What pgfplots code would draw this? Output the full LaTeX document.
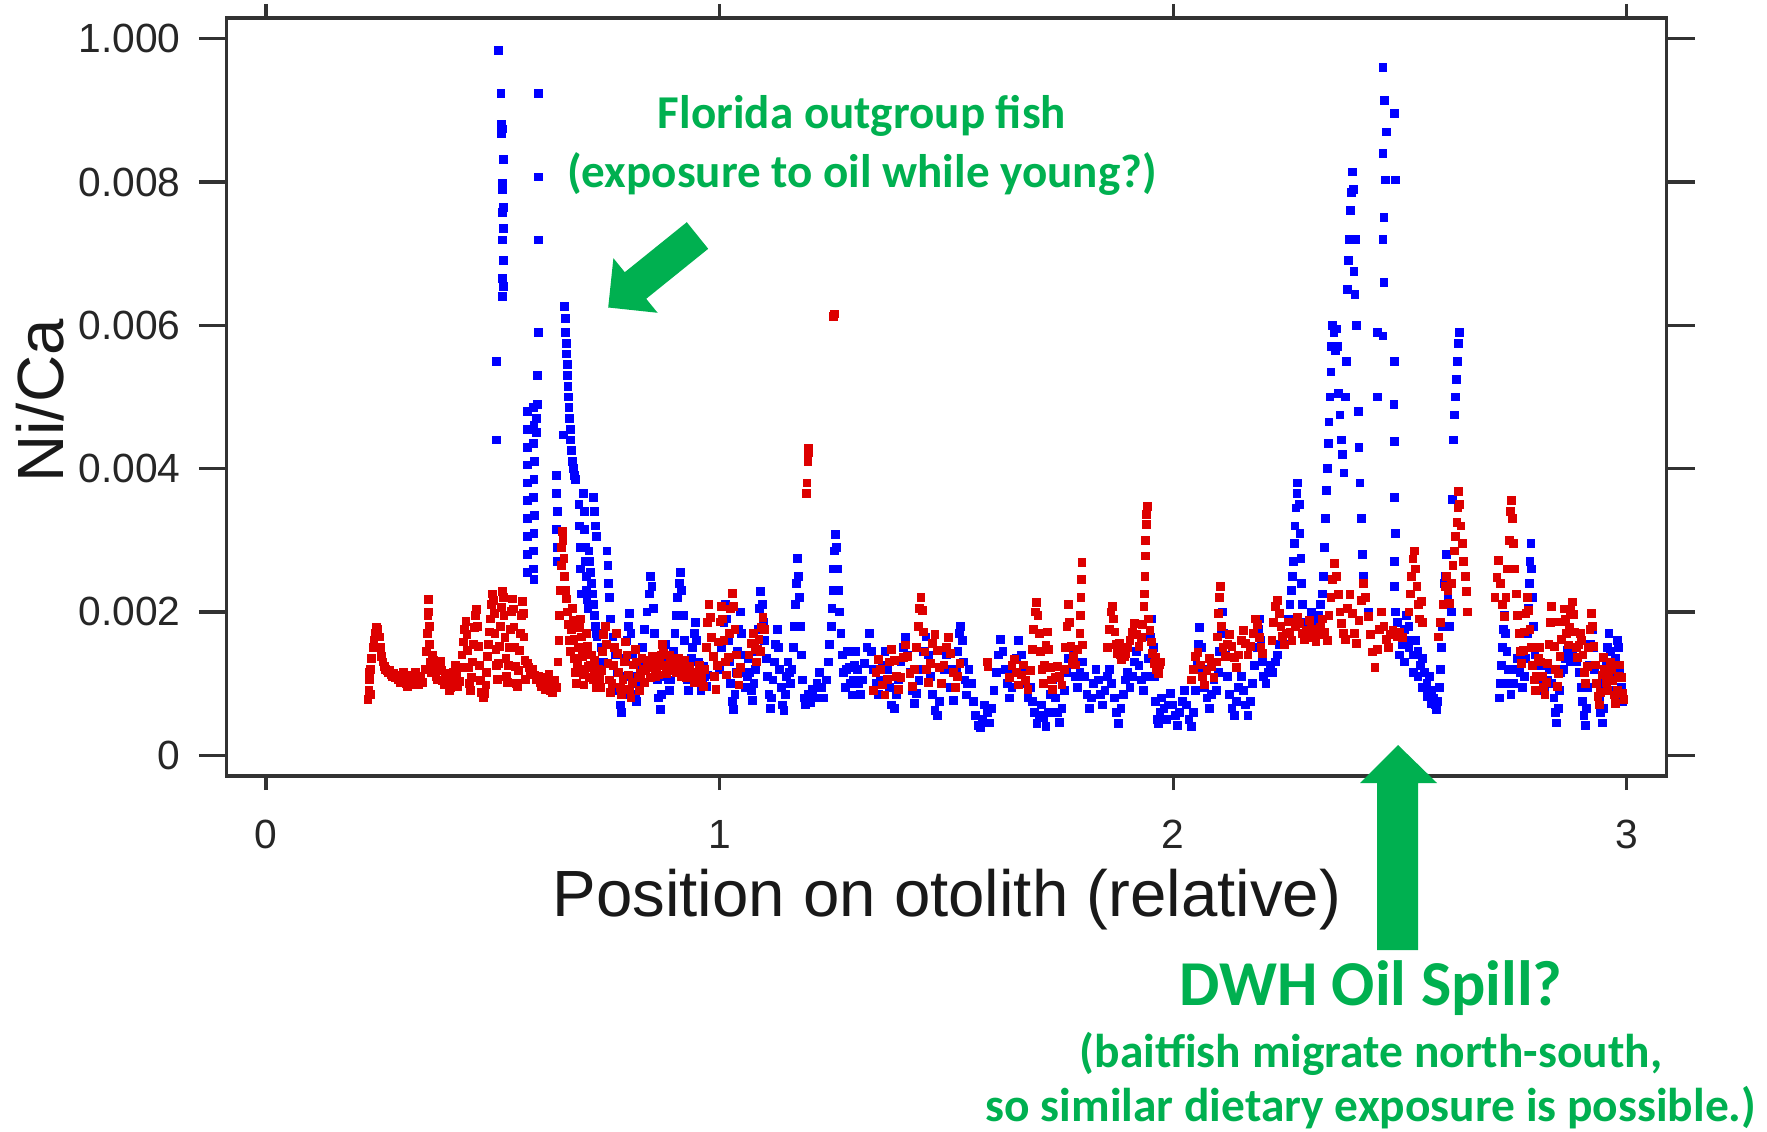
\documentclass[border=0pt]{standalone}
\usepackage{fontspec}
\setmainfont{Liberation Sans}
\newfontfamily\calibri{Carlito}
\usepackage{pgfplots}
\pgfplotsset{compat=1.18}
\usepackage{pgfplotstable}
\definecolor{mblue}{RGB}{0,0,255}
\definecolor{mred}{RGB}{221,0,0}
\definecolor{mgreen}{RGB}{0,176,80}
\definecolor{axgray}{RGB}{50,50,50}
% y values in units of 1e-4 (Ni/Ca x 10^4)
\pgfplotstableread[row sep=\\]{
x y\\
0.508 44.0\\ 0.508 55.0\\ 0.512 98.4\\ 0.518 92.4\\ 0.519 88.0\\ 0.521 87.4\\ 0.520 86.8\\ 0.524 83.1\\ 0.522 79.8\\ 0.521 79.0\\
0.523 76.4\\ 0.522 75.7\\ 0.524 73.5\\ 0.521 71.9\\ 0.523 69.1\\ 0.521 66.5\\ 0.524 65.4\\ 0.522 64.0\\
0.600 92.4\\ 0.601 80.7\\ 0.601 71.9\\ 0.600 59.0\\ 0.599 53.0\\ 0.598 49.0\\ 0.597 47.0\\ 0.596 45.0\\
0.576 48.0\\ 0.577 45.5\\ 0.576 43.0\\ 0.577 40.5\\ 0.576 38.0\\ 0.576 35.5\\ 0.577 33.0\\ 0.576 30.5\\ 0.577 28.0\\ 0.576 25.5\\
0.590 48.5\\ 0.591 46.0\\ 0.590 43.5\\ 0.592 41.0\\ 0.591 38.5\\ 0.590 36.0\\ 0.592 33.5\\ 0.591 31.0\\ 0.590 28.5\\ 0.589 26.0\\ 0.591 24.5\\
0.640 39.0\\ 0.641 36.5\\ 0.642 34.0\\ 0.641 31.5\\ 0.643 29.0\\ 0.642 27.0\\ 0.656 44.7\\
0.659 62.6\\ 0.660 61.0\\ 0.661 59.0\\ 0.662 57.5\\ 0.663 56.0\\ 0.664 54.5\\ 0.665 53.0\\ 0.666 51.5\\ 0.667 50.0\\ 0.668 48.5\\
0.670 47.0\\ 0.671 45.5\\ 0.672 44.0\\ 0.674 42.5\\ 0.676 41.0\\ 0.678 40.0\\ 0.680 39.0\\ 0.683 38.5\\
0.690 35.0\\ 0.692 32.0\\ 0.693 29.0\\ 0.694 26.0\\ 0.695 22.5\\ 0.700 36.5\\ 0.702 34.0\\ 0.703 31.5\\ 0.704 29.0\\ 0.705 27.0\\
0.706 25.0\\ 0.707 23.0\\ 0.708 21.7\\ 0.710 20.5\\ 0.712 28.5\\ 0.714 27.0\\ 0.716 25.5\\ 0.718 24.0\\ 0.720 22.5\\ 0.722 21.0\\
0.724 19.5\\ 0.726 18.0\\ 0.728 17.0\\ 0.730 16.5\\ 0.722 36.0\\ 0.724 34.0\\ 0.726 32.0\\ 0.728 30.5\\
0.740 15.0\\ 0.745 13.0\\ 0.752 28.5\\ 0.754 26.5\\ 0.756 24.0\\ 0.758 22.0\\
0.760 19.0\\ 0.765 16.5\\ 0.770 14.0\\ 0.775 11.5\\ 0.778 9.0\\ 0.781 7.0\\ 0.784 6.0\\ 0.787 8.5\\ 0.790 11.0\\ 0.793 13.5\\
0.796 16.0\\ 0.799 18.0\\ 0.802 19.8\\ 0.805 17.0\\ 0.808 14.0\\ 0.811 11.0\\ 0.814 8.5\\ 0.817 7.5\\ 0.820 10.0\\
0.825 12.5\\ 0.830 15.0\\ 0.835 17.5\\ 0.840 20.0\\ 0.845 22.5\\ 0.848 25.0\\ 0.851 23.5\\ 0.854 20.5\\ 0.857 17.0\\ 0.860 13.5\\
0.863 10.5\\ 0.866 8.0\\ 0.869 6.4\\ 0.872 8.5\\ 0.875 11.0\\ 0.878 13.5\\ 0.881 15.5\\ 0.884 13.0\\ 0.887 10.5\\ 0.890 9.0\\
0.893 10.5\\ 0.896 12.5\\ 0.899 14.5\\ 0.902 17.0\\ 0.905 19.5\\ 0.908 22.0\\ 0.911 24.0\\ 0.914 25.5\\ 0.917 23.0\\ 0.920 19.5\\
0.923 16.0\\ 0.926 13.0\\ 0.929 10.5\\ 0.932 9.0\\ 0.935 11.0\\ 0.938 13.5\\ 0.941 15.0\\ 0.944 17.0\\ 0.947 18.5\\ 0.950 16.0\\
0.953 13.0\\ 0.956 10.5\\ 0.959 9.0\\ 0.962 10.6\\ 0.965 12.4\\ 0.968 11.0\\ 0.971 9.6\\ 0.974 11.2\\
1.000 12.0\\ 1.005 15.0\\ 1.010 18.5\\ 1.013 21.0\\ 1.016 19.0\\ 1.019 16.0\\ 1.022 13.0\\ 1.025 10.0\\ 1.028 7.5\\ 1.031 6.4\\
1.034 8.5\\ 1.037 11.5\\ 1.040 14.5\\ 1.043 17.5\\ 1.046 20.0\\ 1.049 17.0\\ 1.052 14.0\\ 1.055 11.5\\ 1.058 9.5\\ 1.061 11.0\\
1.064 13.5\\ 1.067 11.5\\ 1.070 9.0\\ 1.073 7.6\\ 1.076 10.0\\ 1.079 12.0\\ 1.082 14.5\\ 1.085 17.5\\ 1.088 20.5\\ 1.091 22.8\\
1.094 21.0\\ 1.097 18.5\\ 1.100 16.0\\ 1.103 13.5\\ 1.106 11.0\\ 1.109 8.5\\ 1.112 6.5\\ 1.115 8.0\\ 1.118 10.5\\ 1.121 13.0\\
1.124 15.5\\ 1.127 17.6\\ 1.130 15.0\\ 1.133 12.0\\ 1.136 9.5\\ 1.139 7.0\\ 1.142 6.2\\ 1.145 8.5\\ 1.148 11.0\\ 1.151 13.0\\
1.154 11.5\\ 1.157 10.0\\ 1.160 12.0\\ 1.163 15.0\\ 1.166 18.0\\ 1.168 21.0\\ 1.170 24.0\\ 1.172 27.5\\ 1.174 25.0\\ 1.176 22.0\\
1.178 18.0\\ 1.180 14.0\\ 1.183 10.5\\ 1.186 8.0\\ 1.190 7.0\\ 1.195 8.5\\ 1.200 7.4\\ 1.205 9.2\\ 1.210 8.0\\ 1.215 10.0\\
1.220 11.6\\ 1.225 9.5\\ 1.230 8.0\\ 1.235 10.5\\ 1.240 13.0\\ 1.243 15.5\\ 1.246 18.0\\ 1.248 20.5\\ 1.250 23.0\\ 1.252 26.0\\
1.254 28.5\\ 1.256 30.8\\ 1.258 29.0\\ 1.260 26.0\\ 1.262 23.0\\ 1.265 20.0\\ 1.268 17.0\\ 1.271 14.0\\ 1.274 11.5\\ 1.277 9.5\\
1.280 12.0\\ 1.283 14.5\\ 1.286 12.2\\ 1.289 10.0\\ 1.292 8.4\\ 1.295 10.5\\ 1.298 12.6\\ 1.301 14.5\\ 1.304 12.0\\ 1.307 10.0\\
1.310 8.5\\ 1.315 10.5\\ 1.320 12.8\\ 1.325 15.0\\ 1.330 17.0\\ 1.335 14.5\\ 1.340 12.0\\ 1.345 10.0\\ 1.350 8.5\\ 1.355 10.5\\
1.360 12.5\\ 1.365 14.5\\ 1.370 12.0\\ 1.375 9.5\\ 1.380 7.0\\ 1.385 6.5\\ 1.390 8.5\\ 1.395 10.5\\ 1.400 13.0\\ 1.405 15.0\\
1.410 16.5\\ 1.415 14.0\\ 1.420 11.5\\ 1.425 9.0\\ 1.430 7.2\\ 1.435 8.6\\ 1.440 10.4\\ 1.445 12.0\\ 1.450 14.5\\ 1.455 16.5\\
1.460 14.0\\ 1.465 11.0\\ 1.470 8.5\\ 1.475 6.2\\ 1.480 5.5\\ 1.485 7.5\\ 1.490 10.0\\ 1.495 12.0\\ 1.500 14.0\\ 1.505 12.0\\
1.510 9.5\\ 1.515 7.6\\ 1.520 9.5\\ 1.523 12.0\\ 1.526 14.5\\ 1.529 17.0\\ 1.532 18.0\\ 1.535 16.0\\ 1.538 13.0\\ 1.541 10.5\\
1.544 8.4\\ 1.547 10.0\\ 1.550 12.0\\ 1.555 10.0\\ 1.560 7.5\\ 1.565 5.5\\ 1.570 4.2\\ 1.575 3.8\\ 1.580 5.0\\ 1.585 7.0\\
1.590 6.0\\ 1.595 4.5\\ 1.600 6.5\\ 1.605 9.0\\ 1.610 11.5\\ 1.615 14.0\\ 1.620 16.2\\ 1.625 14.5\\ 1.630 12.0\\ 1.635 10.0\\
1.640 8.0\\ 1.645 9.5\\ 1.650 11.5\\ 1.655 13.5\\ 1.660 16.0\\ 1.665 14.0\\ 1.670 12.0\\
1.675 10.0\\ 1.680 8.0\\ 1.685 9.5\\ 1.690 7.5\\ 1.695 6.0\\ 1.700 4.4\\ 1.705 5.5\\ 1.710 7.0\\ 1.715 5.2\\ 1.720 4.0\\
1.725 6.0\\ 1.730 8.5\\ 1.735 10.5\\ 1.740 8.0\\ 1.745 6.0\\ 1.750 4.6\\ 1.755 6.5\\ 1.760 9.0\\ 1.765 11.5\\ 1.770 13.5\\
1.775 15.0\\ 1.780 13.0\\ 1.785 11.0\\ 1.790 9.5\\ 1.795 11.5\\ 1.800 13.0\\ 1.805 11.0\\ 1.810 8.5\\ 1.815 6.5\\ 1.820 8.0\\
1.825 10.0\\ 1.830 12.0\\ 1.835 10.5\\ 1.840 8.5\\ 1.845 7.0\\ 1.850 9.0\\ 1.855 11.0\\ 1.860 12.0\\ 1.865 10.0\\ 1.870 8.0\\
1.875 6.0\\ 1.880 4.4\\ 1.885 6.5\\ 1.890 8.5\\ 1.895 10.5\\ 1.900 11.5\\ 1.905 9.5\\ 1.910 11.0\\ 1.915 13.0\\ 1.920 14.5\\
1.925 12.5\\ 1.930 10.5\\ 1.935 9.0\\ 1.940 11.0\\ 1.945 13.5\\ 1.950 16.5\\ 1.953 19.0\\ 1.956 15.0\\ 1.959 11.0\\ 1.962 7.5\\
1.965 5.0\\ 1.968 4.4\\ 1.971 6.0\\ 1.975 8.0\\ 1.980 6.5\\ 1.985 5.0\\ 1.990 7.0\\ 1.995 8.6\\ 2.000 7.0\\ 2.005 5.5\\
2.010 4.2\\ 2.015 6.0\\ 2.020 7.5\\ 2.025 9.0\\ 2.030 7.0\\ 2.035 5.0\\ 2.040 4.0\\ 2.045 6.0\\
2.050 9.0\\ 2.053 12.5\\ 2.056 15.5\\ 2.059 17.8\\ 2.062 15.0\\ 2.065 12.0\\ 2.070 9.5\\ 2.075 8.0\\ 2.080 6.5\\ 2.085 8.5\\
2.090 10.5\\ 2.095 9.0\\ 2.100 11.5\\ 2.103 14.5\\ 2.106 17.5\\ 2.109 20.0\\ 2.112 17.0\\ 2.115 14.0\\ 2.120 11.0\\ 2.125 8.5\\
2.130 6.5\\ 2.135 5.5\\ 2.140 7.5\\ 2.145 9.5\\ 2.150 11.0\\ 2.155 9.0\\ 2.160 7.0\\ 2.165 5.5\\ 2.170 7.5\\ 2.175 10.0\\
2.180 12.5\\ 2.185 15.0\\ 2.188 17.5\\ 2.191 19.0\\ 2.194 16.0\\ 2.197 13.0\\ 2.200 11.0\\ 2.205 10.0\\ 2.210 11.5\\ 2.215 12.5\\
2.220 11.5\\ 2.225 13.0\\ 2.230 14.0\\ 2.235 15.5\\ 2.240 16.5\\ 2.245 15.5\\ 2.250 17.0\\
2.255 19.0\\ 2.258 21.0\\ 2.261 23.0\\ 2.263 25.0\\ 2.265 27.0\\ 2.267 29.5\\ 2.269 32.0\\ 2.271 34.5\\ 2.273 36.5\\ 2.275 38.0\\
2.278 35.0\\ 2.280 31.0\\ 2.282 27.5\\ 2.284 24.0\\ 2.286 21.0\\ 2.290 18.5\\ 2.295 17.0\\ 2.300 18.5\\ 2.305 20.0\\ 2.310 19.0\\
2.315 18.0\\ 2.320 19.5\\ 2.325 21.0\\ 2.330 22.5\\ 2.332 25.0\\ 2.334 29.0\\ 2.336 33.0\\ 2.338 37.0\\ 2.340 40.0\\ 2.342 43.5\\
2.344 46.5\\ 2.346 50.0\\ 2.348 53.5\\ 2.350 57.0\\ 2.352 60.0\\ 2.355 59.0\\ 2.358 56.5\\ 2.360 59.5\\ 2.362 57.0\\ 2.365 50.5\\
2.368 47.5\\ 2.371 44.0\\ 2.374 42.0\\ 2.377 39.4\\ 2.380 50.0\\ 2.383 55.0\\ 2.385 65.0\\ 2.387 69.0\\ 2.389 72.0\\ 2.391 76.0\\
2.393 78.5\\ 2.395 81.4\\ 2.397 79.0\\ 2.399 67.5\\ 2.401 64.3\\ 2.403 72.0\\ 2.405 60.0\\ 2.408 48.0\\ 2.410 43.0\\ 2.412 38.0\\
2.415 33.0\\ 2.418 28.0\\ 2.420 25.0\\ 2.425 22.0\\ 2.430 20.0\\
2.451 59.0\\ 2.451 50.0\\ 2.463 96.0\\ 2.466 91.4\\ 2.470 87.0\\ 2.463 84.0\\ 2.468 80.3\\ 2.465 75.0\\ 2.463 72.0\\ 2.465 66.0\\
2.463 58.5\\ 2.488 89.6\\ 2.490 80.3\\ 2.488 55.0\\ 2.487 49.0\\ 2.488 43.8\\ 2.489 36.0\\ 2.490 31.0\\ 2.489 27.0\\ 2.488 23.5\\
2.490 20.0\\ 2.495 18.5\\ 2.500 17.0\\ 2.505 15.5\\ 2.510 17.5\\ 2.515 19.5\\ 2.520 18.0\\ 2.525 16.0\\ 2.530 14.0\\ 2.535 16.0\\
2.540 14.5\\ 2.545 12.5\\ 2.550 13.5\\ 2.555 11.5\\ 2.560 10.0\\ 2.565 11.0\\ 2.570 9.0\\ 2.575 8.0\\ 2.578 7.0\\ 2.581 6.4\\
2.584 7.5\\ 2.587 9.5\\ 2.500 14.0\\ 2.510 13.0\\ 2.520 15.0\\ 2.530 11.5\\ 2.540 11.0\\ 2.550 9.5\\ 2.560 8.2\\ 2.570 7.2\\
2.590 12.0\\ 2.592 15.0\\ 2.594 18.0\\ 2.596 21.0\\ 2.598 24.0\\ 2.600 25.0\\ 2.603 28.0\\ 2.606 22.0\\ 2.610 18.0\\ 2.613 20.0\\
2.616 35.7\\ 2.619 44.0\\ 2.621 47.5\\ 2.623 50.0\\ 2.625 52.4\\ 2.627 55.0\\ 2.629 57.5\\ 2.631 59.0\\
2.720 8.0\\ 2.722 10.0\\ 2.724 12.5\\ 2.726 15.0\\ 2.728 17.5\\ 2.730 19.5\\ 2.733 17.0\\ 2.736 14.5\\ 2.739 12.0\\ 2.742 10.0\\
2.745 8.5\\ 2.750 10.0\\ 2.755 12.0\\ 2.760 13.5\\ 2.765 11.5\\ 2.770 9.5\\ 2.775 11.0\\ 2.778 13.5\\ 2.781 17.0\\ 2.783 20.5\\
2.785 24.0\\ 2.787 27.0\\ 2.789 29.5\\ 2.791 26.0\\ 2.793 22.0\\ 2.795 18.0\\ 2.798 14.0\\ 2.801 11.0\\ 2.804 9.0\\ 2.807 10.5\\
2.810 12.5\\ 2.815 11.0\\ 2.820 9.0\\ 2.825 10.5\\ 2.830 12.0\\ 2.835 10.0\\ 2.840 8.0\\ 2.843 6.0\\ 2.846 4.5\\ 2.849 6.5\\
2.852 9.0\\ 2.855 11.5\\ 2.858 13.8\\ 2.862 12.0\\ 2.866 13.5\\ 2.870 14.6\\ 2.875 13.0\\ 2.880 14.0\\ 2.885 15.0\\ 2.890 13.0\\
2.895 11.5\\ 2.900 9.5\\ 2.903 7.5\\ 2.906 5.5\\ 2.909 4.2\\ 2.912 6.5\\ 2.915 9.5\\ 2.918 12.5\\ 2.921 15.5\\ 2.924 17.5\\
2.927 15.0\\ 2.930 12.0\\ 2.935 10.0\\ 2.940 8.0\\ 2.943 6.0\\ 2.946 4.5\\ 2.949 6.5\\ 2.952 9.5\\ 2.955 12.5\\ 2.958 15.0\\
2.961 17.0\\ 2.964 14.5\\ 2.967 11.5\\ 2.970 9.0\\ 2.973 11.0\\ 2.976 13.5\\ 2.979 16.0\\ 2.982 15.0\\ 2.985 12.0\\ 2.988 9.5\\ 2.991 7.5\\
}\blueD
\pgfplotstableread[row sep=\\]{
x y\\
0.225 7.8\\ 0.227 9.0\\ 0.228 11.5\\ 0.229 10.5\\ 0.230 8.5\\ 0.231 12.0\\ 0.233 13.5\\ 0.236 15.0\\ 0.238 16.0\\ 0.241 17.0\\
0.244 17.8\\ 0.247 17.5\\ 0.250 16.5\\ 0.252 15.0\\ 0.255 13.8\\ 0.258 13.0\\ 0.261 12.4\\ 0.264 12.0\\ 0.267 11.8\\ 0.270 11.5\\
0.273 11.9\\ 0.276 11.2\\ 0.279 11.0\\ 0.282 11.4\\ 0.285 10.8\\ 0.288 11.2\\ 0.291 10.5\\ 0.294 11.0\\ 0.297 10.2\\ 0.300 10.8\\
0.303 11.5\\ 0.306 10.4\\ 0.309 10.0\\ 0.312 9.6\\ 0.315 10.6\\ 0.318 11.2\\ 0.321 10.1\\ 0.324 9.8\\ 0.327 10.9\\ 0.330 11.6\\
0.333 10.3\\ 0.336 9.9\\ 0.339 10.7\\ 0.342 11.0\\ 0.345 10.2\\
0.352 12.0\\ 0.354 14.5\\ 0.356 17.0\\ 0.357 19.5\\ 0.358 21.7\\ 0.359 20.0\\ 0.360 18.0\\ 0.361 15.5\\ 0.362 13.0\\ 0.364 11.5\\
0.366 12.8\\ 0.368 14.0\\ 0.370 13.2\\ 0.372 12.0\\ 0.375 11.0\\ 0.378 10.5\\ 0.381 12.4\\ 0.384 13.1\\ 0.387 11.8\\ 0.390 10.4\\
0.393 9.8\\ 0.396 10.6\\ 0.399 11.4\\ 0.402 10.0\\ 0.405 9.0\\ 0.408 9.5\\ 0.411 10.8\\
0.414 11.5\\ 0.417 12.6\\ 0.420 11.0\\ 0.423 9.6\\ 0.426 10.3\\ 0.429 12.2\\ 0.432 14.0\\ 0.435 15.8\\ 0.438 17.5\\ 0.441 18.7\\
0.443 16.8\\ 0.445 14.6\\ 0.447 12.2\\ 0.449 10.0\\ 0.451 9.0\\ 0.453 10.8\\ 0.455 13.0\\ 0.457 15.5\\ 0.459 17.8\\ 0.462 19.5\\
0.465 20.3\\ 0.467 18.0\\ 0.469 15.2\\ 0.471 12.5\\ 0.473 10.4\\ 0.476 8.8\\ 0.479 8.0\\ 0.482 8.6\\ 0.485 9.8\\ 0.487 11.6\\
0.489 13.8\\ 0.491 15.5\\ 0.493 17.2\\ 0.495 19.0\\ 0.497 21.0\\ 0.499 22.5\\ 0.501 21.6\\ 0.503 19.8\\ 0.505 17.0\\ 0.507 14.8\\
0.509 12.5\\ 0.511 10.6\\ 0.513 12.8\\ 0.515 15.2\\ 0.517 18.0\\ 0.519 20.6\\ 0.521 22.8\\ 0.523 22.0\\ 0.525 19.5\\ 0.527 16.4\\
0.529 13.5\\ 0.531 11.0\\ 0.533 10.2\\ 0.535 12.5\\ 0.537 15.0\\ 0.539 17.6\\ 0.541 20.1\\ 0.543 21.8\\ 0.545 20.4\\ 0.547 17.9\\
0.549 15.0\\ 0.551 12.4\\ 0.553 10.0\\ 0.555 9.6\\ 0.557 11.8\\ 0.559 14.6\\ 0.561 17.0\\ 0.563 19.5\\ 0.565 21.5\\ 0.567 19.8\\
0.569 16.5\\ 0.571 13.2\\ 0.573 10.6\\
0.576 12.8\\ 0.580 12.2\\ 0.584 11.5\\ 0.588 12.0\\ 0.592 11.2\\ 0.596 10.6\\ 0.600 11.0\\ 0.604 10.2\\ 0.608 9.6\\ 0.612 10.8\\
0.616 9.2\\ 0.620 10.0\\ 0.624 11.3\\ 0.628 9.0\\ 0.632 8.8\\ 0.636 10.4\\ 0.640 9.4\\
0.644 13.0\\ 0.646 16.0\\ 0.648 19.5\\ 0.650 23.0\\ 0.651 26.5\\ 0.652 29.0\\ 0.653 31.2\\ 0.655 30.0\\ 0.657 27.5\\ 0.659 25.0\\
0.661 23.0\\ 0.663 21.8\\ 0.665 20.0\\ 0.667 18.2\\ 0.669 16.0\\ 0.671 14.5\\ 0.673 17.5\\ 0.675 20.5\\ 0.677 18.8\\ 0.679 16.2\\
0.681 13.5\\ 0.683 11.5\\ 0.685 10.0\\ 0.687 12.6\\ 0.689 15.0\\ 0.691 17.8\\ 0.693 19.0\\ 0.695 16.5\\ 0.697 13.8\\ 0.699 11.2\\
0.701 9.8\\ 0.703 12.0\\ 0.705 14.5\\ 0.707 17.0\\ 0.709 15.2\\ 0.711 12.4\\ 0.713 10.8\\ 0.715 12.5\\ 0.717 14.0\\ 0.719 12.2\\
0.721 10.5\\ 0.723 11.6\\ 0.725 13.2\\ 0.727 11.0\\ 0.729 9.5\\ 0.731 10.8\\ 0.733 12.0\\ 0.735 10.6\\ 0.737 9.4\\ 0.739 11.8\\
0.742 14.5\\ 0.745 16.8\\ 0.748 18.0\\ 0.751 15.5\\ 0.754 12.8\\ 0.757 10.5\\ 0.760 8.8\\ 0.763 10.0\\ 0.766 12.5\\ 0.769 15.0\\
0.772 17.0\\ 0.775 14.2\\ 0.778 11.6\\ 0.781 9.4\\ 0.784 8.4\\ 0.787 10.6\\ 0.790 13.0\\ 0.793 15.8\\ 0.796 14.0\\ 0.799 11.2\\
0.802 9.2\\ 0.805 8.0\\ 0.808 10.2\\ 0.811 12.6\\ 0.814 14.8\\ 0.817 13.0\\ 0.820 10.8\\ 0.823 9.0\\ 0.826 11.4\\ 0.829 13.5\\
0.832 12.0\\ 0.835 10.2\\ 0.838 11.8\\ 0.841 13.2\\ 0.844 12.4\\ 0.847 10.8\\ 0.850 12.2\\ 0.853 13.8\\ 0.856 12.6\\ 0.859 11.0\\
0.862 12.0\\ 0.865 11.2\\ 0.868 12.8\\ 0.871 14.0\\ 0.874 15.5\\ 0.877 14.2\\ 0.880 12.5\\ 0.883 11.4\\ 0.886 12.6\\ 0.889 14.0\\
0.892 12.8\\ 0.895 11.8\\ 0.898 13.0\\ 0.901 12.4\\ 0.904 11.5\\ 0.907 12.8\\ 0.910 13.5\\ 0.913 12.2\\ 0.916 11.0\\ 0.919 12.0\\
0.922 13.2\\ 0.925 11.6\\ 0.928 10.8\\ 0.931 11.8\\ 0.935 12.4\\ 0.940 11.0\\ 0.945 10.2\\ 0.950 11.5\\ 0.955 12.6\\ 0.960 10.8\\
0.965 9.6\\ 0.968 12.0\\ 0.971 15.0\\ 0.974 18.5\\ 0.977 21.0\\ 0.980 19.2\\ 0.983 16.4\\ 0.986 13.8\\ 0.989 11.0\\ 0.992 9.2\\
0.995 12.5\\ 0.998 15.8\\ 1.001 18.6\\ 1.004 20.8\\ 1.007 19.0\\ 1.010 16.0\\ 1.013 13.0\\ 1.016 11.2\\ 1.019 13.6\\ 1.022 17.0\\
1.025 20.4\\ 1.028 22.6\\ 1.031 20.8\\ 1.034 17.6\\ 1.037 14.0\\ 1.040 11.4\\ 1.043 9.8\\ 1.046 12.2\\
1.065 14.0\\ 1.070 15.6\\ 1.075 17.0\\ 1.078 15.2\\ 1.081 13.0\\ 1.084 14.8\\ 1.087 16.2\\ 1.090 14.5\\ 1.093 17.8\\ 1.096 19.2\\ 1.099 17.5\\
1.192 36.5\\ 1.193 38.0\\ 1.195 41.0\\ 1.196 42.3\\ 1.197 42.8\\ 1.252 61.2\\ 1.254 61.6\\
1.340 9.0\\ 1.345 11.5\\ 1.350 13.4\\ 1.355 12.0\\ 1.360 9.8\\ 1.365 8.4\\ 1.370 10.6\\ 1.375 13.0\\ 1.380 14.8\\ 1.385 13.2\\
1.390 11.0\\ 1.395 9.2\\ 1.400 10.8\\ 1.405 13.6\\ 1.410 15.4\\ 1.415 13.8\\ 1.420 11.4\\ 1.425 9.6\\ 1.430 12.0\\ 1.435 15.0\\
1.438 18.0\\ 1.441 20.5\\ 1.444 22.0\\ 1.447 20.2\\ 1.450 17.2\\ 1.453 14.4\\ 1.456 12.0\\ 1.460 10.2\\ 1.465 12.8\\ 1.470 15.6\\
1.475 16.8\\ 1.480 14.6\\ 1.485 12.2\\ 1.490 10.0\\ 1.495 12.6\\ 1.500 15.0\\ 1.505 16.4\\ 1.510 14.2\\ 1.515 11.6\\ 1.520 9.4\\
1.525 11.0\\ 1.530 12.8\\ 1.590 13.0\\ 1.592 12.4\\
1.640 10.8\\ 1.645 12.5\\ 1.650 13.4\\ 1.655 11.6\\ 1.660 9.8\\ 1.665 11.2\\ 1.670 12.6\\ 1.675 10.4\\ 1.680 9.2\\ 1.685 11.8\\
1.690 14.8\\ 1.693 17.5\\ 1.696 20.0\\ 1.699 21.3\\ 1.702 19.5\\ 1.705 17.0\\ 1.708 14.5\\ 1.711 12.0\\ 1.714 10.0\\ 1.717 12.5\\
1.720 15.4\\ 1.723 17.2\\ 1.726 14.8\\ 1.729 12.2\\ 1.732 10.5\\ 1.735 9.2\\ 1.740 10.8\\ 1.745 12.4\\ 1.750 11.0\\ 1.755 9.8\\
1.760 12.0\\ 1.763 15.0\\ 1.766 18.0\\ 1.769 21.0\\ 1.772 18.5\\ 1.775 15.2\\ 1.778 12.8\\ 1.781 13.8\\ 1.784 12.6\\
1.790 14.8\\ 1.795 17.0\\ 1.796 19.5\\ 1.797 22.0\\ 1.798 24.5\\ 1.799 26.9\\ 1.800 15.4\\
1.855 15.0\\ 1.860 17.6\\ 1.863 20.0\\ 1.866 20.8\\ 1.869 19.0\\ 1.872 17.2\\ 1.875 15.5\\ 1.878 14.2\\ 1.881 15.6\\ 1.884 14.0\\
1.887 13.4\\ 1.890 14.6\\ 1.893 13.8\\ 1.896 14.2\\ 1.900 15.0\\ 1.905 16.0\\ 1.910 17.2\\ 1.915 18.4\\ 1.920 16.8\\ 1.925 15.2\\
1.930 16.4\\ 1.933 18.2\\ 1.936 20.8\\ 1.937 22.5\\ 1.938 25.0\\ 1.939 27.8\\ 1.940 30.0\\ 1.941 32.2\\ 1.942 33.6\\ 1.943 34.7\\
1.946 19.0\\ 1.949 17.4\\ 1.952 15.8\\ 1.955 14.2\\ 1.958 12.8\\ 1.961 13.6\\ 1.964 12.0\\ 1.967 11.4\\ 1.970 12.6\\ 1.973 13.0\\
2.040 10.5\\ 2.045 12.0\\ 2.050 13.8\\ 2.055 14.3\\ 2.060 12.6\\ 2.065 11.0\\ 2.070 9.8\\ 2.075 11.8\\ 2.080 13.5\\ 2.085 12.4\\
2.090 10.8\\ 2.095 13.0\\ 2.098 16.5\\ 2.100 19.8\\ 2.102 22.0\\ 2.104 23.5\\ 2.107 18.0\\ 2.110 15.0\\ 2.115 13.8\\ 2.120 15.5\\
2.125 16.8\\ 2.130 15.2\\ 2.135 13.6\\ 2.140 12.2\\ 2.145 14.0\\ 2.150 16.0\\ 2.155 17.4\\ 2.160 15.6\\ 2.165 14.0\\ 2.170 15.2\\
2.178 17.0\\ 2.182 19.0\\ 2.186 18.2\\ 2.190 16.4\\ 2.194 15.0\\ 2.198 14.2\\
2.218 16.0\\ 2.222 18.5\\ 2.226 20.8\\ 2.230 21.6\\ 2.234 19.8\\ 2.238 18.0\\ 2.242 16.6\\ 2.246 15.4\\ 2.250 17.0\\ 2.254 18.6\\
2.258 17.2\\ 2.262 16.0\\ 2.270 18.0\\ 2.275 19.2\\ 2.280 18.4\\ 2.285 17.0\\ 2.290 16.2\\ 2.295 17.4\\ 2.300 18.8\\ 2.305 17.6\\
2.310 16.4\\ 2.315 15.8\\ 2.320 16.8\\ 2.325 17.8\\ 2.330 19.0\\ 2.335 17.2\\ 2.340 16.0\\
2.344 19.5\\ 2.348 22.0\\ 2.352 24.5\\ 2.356 26.8\\ 2.360 25.0\\ 2.364 22.4\\ 2.368 20.0\\ 2.372 18.4\\ 2.376 17.0\\ 2.380 16.2\\
2.385 20.5\\ 2.390 22.4\\ 2.395 19.8\\ 2.400 17.0\\ 2.405 15.6\\ 2.410 18.8\\ 2.415 21.6\\ 2.420 24.0\\ 2.425 22.0\\ 2.430 19.4\\
2.435 16.8\\ 2.440 14.4\\ 2.445 12.2\\ 2.450 14.8\\ 2.455 17.6\\ 2.460 20.0\\ 2.465 18.0\\ 2.470 16.2\\ 2.475 15.0\\ 2.480 16.8\\
2.485 17.4\\ 2.490 17.0\\ 2.495 16.6\\ 2.500 17.2\\ 2.505 16.4\\
2.520 20.0\\ 2.523 22.5\\ 2.526 25.0\\ 2.529 27.4\\ 2.532 28.5\\ 2.535 26.0\\ 2.538 23.5\\ 2.541 21.0\\ 2.544 19.0\\ 2.547 21.5\\ 2.550 18.5\\
2.585 16.5\\ 2.590 18.5\\ 2.595 21.0\\ 2.600 23.5\\ 2.603 25.0\\ 2.606 23.0\\ 2.610 21.2\\ 2.614 24.0\\ 2.617 26.5\\ 2.620 28.5\\
2.623 30.5\\ 2.626 32.5\\ 2.628 34.5\\ 2.630 36.8\\ 2.632 35.0\\ 2.635 32.0\\ 2.638 29.5\\ 2.641 27.0\\ 2.644 25.0\\ 2.647 22.8\\ 2.650 20.0\\
2.710 22.0\\ 2.714 24.8\\ 2.718 27.2\\ 2.722 24.0\\ 2.726 21.0\\ 2.730 19.4\\ 2.734 22.0\\ 2.738 26.0\\ 2.741 30.0\\ 2.744 34.0\\
2.746 35.6\\ 2.748 33.0\\ 2.751 29.5\\ 2.754 26.0\\ 2.757 22.5\\ 2.760 19.5\\ 2.763 17.0\\ 2.766 14.5\\ 2.769 12.8\\ 2.772 14.6\\
2.775 17.2\\ 2.778 19.8\\ 2.781 22.0\\ 2.784 20.2\\ 2.787 17.5\\ 2.790 15.0\\ 2.793 12.5\\ 2.796 10.5\\ 2.799 9.0\\ 2.802 11.0\\
2.805 13.5\\ 2.808 15.0\\ 2.811 13.0\\ 2.814 11.0\\ 2.817 9.5\\ 2.820 8.4\\ 2.823 10.2\\ 2.826 12.8\\ 2.829 15.5\\ 2.832 18.5\\
2.835 20.8\\ 2.838 18.6\\ 2.841 15.2\\ 2.844 12.0\\ 2.847 9.6\\ 2.850 11.4\\ 2.853 13.8\\ 2.856 16.2\\ 2.859 18.6\\ 2.862 20.4\\
2.865 19.0\\ 2.868 17.0\\ 2.871 15.4\\ 2.874 17.8\\ 2.877 20.2\\ 2.880 21.4\\ 2.883 19.6\\ 2.886 17.2\\ 2.889 15.0\\ 2.892 13.6\\
2.895 15.4\\ 2.898 17.0\\ 2.901 16.0\\ 2.904 14.0\\ 2.907 11.6\\ 2.910 10.0\\ 2.913 12.4\\ 2.916 15.0\\ 2.919 17.6\\ 2.922 19.8\\
2.925 18.0\\ 2.928 15.2\\ 2.931 12.6\\ 2.934 10.0\\ 2.937 8.2\\ 2.940 7.0\\ 2.943 8.8\\ 2.946 11.2\\ 2.949 13.6\\ 2.952 12.0\\
2.955 10.2\\ 2.958 9.0\\ 2.961 10.8\\ 2.964 13.0\\ 2.967 12.0\\ 2.970 10.4\\ 2.973 8.4\\ 2.976 7.2\\ 2.979 9.0\\ 2.982 11.0\\
2.985 12.6\\ 2.988 10.8\\ 2.991 8.6\\ 2.994 7.8\\
}\redD
\begin{document}
\begin{tikzpicture}
\path[use as bounding box] (0,0) rectangle (17.67,11.31);
\begin{axis}[
  at={(2.268cm,3.55cm)}, anchor=south west,
  scale only axis, width=14.40cm, height=7.58cm,
  xmin=-0.0864, xmax=3.0886, ymin=-2.9, ymax=102.9,
  axis line style={axgray, line width=0.9pt},
  tick align=outside, tick pos=both,
  xtick={0,1,2,3}, xticklabels={0,1,2,3},
  ytick={0,20,40,60,80,100}, yticklabels={0,0.002,0.004,0.006,0.008,1.000},
  xticklabel pos=lower, yticklabel pos=left,
  minor tick num=0,
  tick style={axgray, line width=0.9pt},
  xtick style={/pgfplots/major tick length=0.14cm},
  ytick style={/pgfplots/major tick length=0.28cm},
  /pgf/number format/assume math mode=true,
  ticklabel style={font=\fontsize{11.6}{13}\selectfont, text=black!85},
  xticklabel style={yshift=-0.17cm},
  yticklabel style={xshift=-0.19cm},
  xlabel={Position on otolith (relative)},
  ylabel={Ni/Ca},
  label style={font=\fontsize{18.6}{21}\selectfont, text=black!90},
  xlabel style={at={(axis description cs:0.5,-0.1636)}, anchor=center},
  ylabel style={at={(axis description cs:-0.1297,0.4947)}, anchor=center},
]
\addplot[only marks, mark=square*, mark size=1.05pt, color=mblue] table {\blueD};
\addplot[only marks, mark=square*, mark size=1.05pt, color=mred] table {\redD};
\end{axis}
% annotation arrows
\fill[mgreen] (6.868,9.088) -- (6.248,8.588) -- (6.134,8.728) -- (6.082,8.235) -- (6.576,8.182) -- (6.462,8.322) -- (7.082,8.822) -- cycle;
\fill[mgreen] (13.98,3.86) -- (13.60,3.48) -- (13.77,3.48) -- (13.77,1.81) -- (14.18,1.81) -- (14.18,3.48) -- (14.37,3.48) -- cycle;
% annotation texts
\node[anchor=base, text=mgreen, inner sep=0pt, font=\calibri\bfseries\fontsize{13.4}{15}\selectfont] at (8.62,10.02) {Florida outgroup fish};
\node[anchor=base, text=mgreen, inner sep=0pt, font=\calibri\bfseries\fontsize{13.4}{15}\selectfont] at (8.62,9.43) {(exposure to oil while young?)};
\node[anchor=base, text=mgreen, inner sep=0pt, font=\calibri\bfseries\fontsize{18.2}{22}\selectfont] at (13.71,1.26) {DWH Oil Spill?};
\node[anchor=base, text=mgreen, inner sep=0pt, font=\calibri\bfseries\fontsize{13.5}{15}\selectfont] at (13.71,0.64) {(baitfish migrate north-south,};
\node[anchor=base, text=mgreen, inner sep=0pt, font=\calibri\bfseries\fontsize{13.5}{15}\selectfont] at (13.71,0.10) {so similar dietary exposure is possible.)};
\end{tikzpicture}
\end{document}
